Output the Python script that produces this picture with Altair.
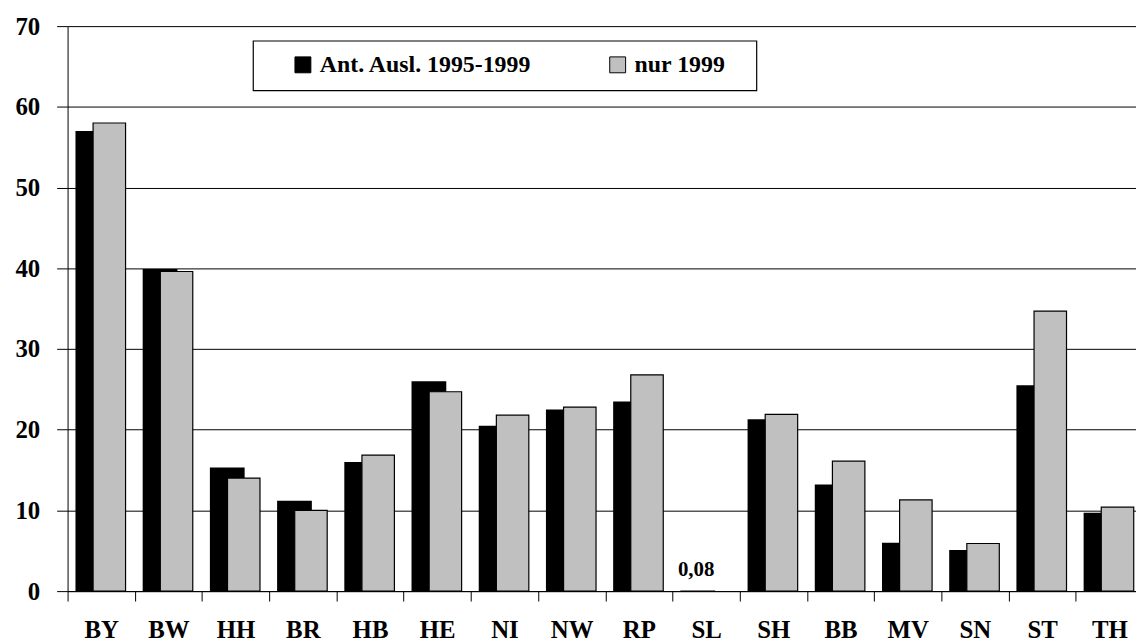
import altair as alt
import pandas as pd

laender = ["BY", "BW", "HH", "BR", "HB", "HE", "NI", "NW", "RP", "SL",
           "SH", "BB", "MV", "SN", "ST", "TH"]
ant_ausl_1995_1999 = [57.0, 39.9, 15.3, 11.2, 16.0, 26.0, 20.5, 22.5, 23.5, 0.08,
                      21.3, 13.2, 6.0, 5.1, 25.5, 9.7]
nur_1999 = [58.0, 39.6, 14.0, 10.0, 16.85, 24.7, 21.8, 22.8, 26.8, None,
            21.9, 16.1, 11.3, 5.9, 34.7, 10.4]
reihen = ["Ant. Ausl. 1995-1999", "nur 1999"]
y_ticks = [0, 10, 20, 30, 40, 50, 60, 70]

rows = []
for land, a, n in zip(laender, ant_ausl_1995_1999, nur_1999):
    rows.append({"Land": land, "Reihe": reihen[0], "Wert": a})
    if n is not None:
        rows.append({"Land": land, "Reihe": reihen[1], "Wert": n})
df = pd.DataFrame(rows)

FONT = "Liberation Serif"

x_enc = alt.X(
    "Land:N",
    sort=laender,
    scale=alt.Scale(range=[0, 1083], paddingInner=0, paddingOuter=0),
    axis=alt.Axis(
        title=None,
        labelAngle=0,
        labelFont=FONT,
        labelFontSize=25,
        labelFontWeight="bold",
        labelColor="black",
        labelPadding=17,
        tickSize=10,
        tickColor="black",
        tickBand="extent",
        domainColor="black",
        grid=False,
    ),
)
y_enc = alt.Y(
    "Wert:Q",
    scale=alt.Scale(domain=[0, 70], nice=False),
    axis=alt.Axis(
        title=None,
        values=y_ticks,
        labelFont=FONT,
        labelFontSize=25,
        labelFontWeight="bold",
        labelColor="black",
        labelPadding=17,
        tickSize=11,
        tickColor="black",
        domainColor="black",
        grid=True,
        gridColor="black",
        gridWidth=1,
    ),
)
color_enc = alt.Color(
    "Reihe:N",
    scale=alt.Scale(domain=reihen, range=["#000000", "#c0c0c0"]),
    legend=alt.Legend(
        title=None,
        orient="none",
        legendX=225,
        legendY=27,
        direction="horizontal",
        symbolType="square",
        symbolSize=256,
        symbolStrokeColor="black",
        symbolStrokeWidth=1,
        labelFont=FONT,
        labelFontSize=24,
        labelFontWeight="bold",
        labelColor="black",
        labelLimit=600,
        labelOffset=5,
        columnPadding=74,
        padding=0,
    ),
)

base = alt.Chart(df)

frame = alt.Chart(pd.DataFrame({"f": [0]})).mark_rect(
    fill="white", stroke="black", strokeWidth=1.2
).encode(
    x=alt.value(187), x2=alt.value(694), y=alt.value(15), y2=alt.value(65)
)

bars_black = base.transform_filter(alt.datum.Reihe == reihen[0]).mark_bar(
    width=35, xOffset=-8.4
).encode(x=x_enc, y=y_enc, color=color_enc)

bars_gray = base.transform_filter(alt.datum.Reihe == reihen[1]).mark_bar(
    width=32.7, xOffset=8.2, stroke="black", strokeWidth=1.2
).encode(x=x_enc, y=y_enc, color=color_enc)

label = base.transform_filter(
    (alt.datum.Reihe == reihen[0]) & (alt.datum.Wert < 1)
).transform_calculate(
    txt="replace(format(datum.Wert, '.2f'), '.', ',')"
).mark_text(
    font=FONT, fontSize=21, fontWeight="bold", color="black",
    align="center", baseline="alphabetic", dx=-10, dy=-14.5
).encode(x=x_enc, y=y_enc, text="txt:N")

chart = alt.layer(frame, bars_black, bars_gray, label).properties(
    width=1076,
    height=569,
    padding={"left": 60, "top": 16, "right": 0, "bottom": 50},
    autosize=alt.AutoSizeParams(type="none"),
    background="white",
).configure_view(stroke=None)

chart.save("out.html", embed_options={"renderer": "svg", "actions": False})
